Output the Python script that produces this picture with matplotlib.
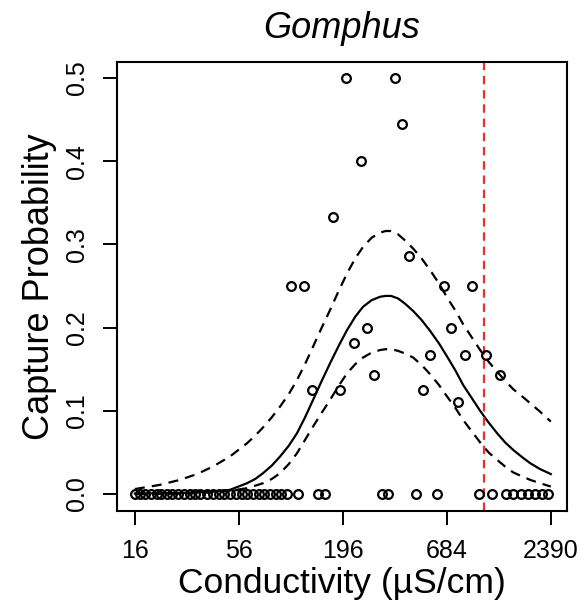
import matplotlib
matplotlib.use('Agg')
import matplotlib.pyplot as plt

plt.rcParams['font.family'] = ['Liberation Sans', 'DejaVu Sans']

# observed capture probabilities (conductivity in uS/cm)
zero_cond = [16, 17, 18, 19.5, 21, 22, 23.5, 25, 27, 29, 31, 33, 35, 38, 41, 44,
             47, 50, 54, 58, 62, 66, 71, 76, 81, 87, 93, 100, 114, 145, 158,
             313, 337, 472, 608, 1009, 1180, 1397, 1519, 1673, 1820, 1981, 2155, 2317]
obs_cond = [105, 123, 135, 174, 189, 204, 224, 243, 263, 286, 367, 399, 434,
            514, 559, 662, 720, 783, 852, 927, 1097, 1299]
obs_prob = [0.25, 0.25, 0.125, 0.333, 0.125, 0.5, 0.182, 0.4, 0.2, 0.143, 0.5, 0.444, 0.286,
            0.125, 0.167, 0.25, 0.2, 0.111, 0.167, 0.25, 0.167, 0.143]

# fitted curve and confidence band
curve_cond = [16, 21.6, 27.5, 33.8, 40.9, 50.2, 61.7, 68, 74.8, 83, 91.8, 102, 112.6, 124, 136.6,
              151, 167.6, 186, 205.7, 227, 249.5, 277, 306.2, 327, 349.5, 380, 412, 455.5,
              505, 559, 622, 686.6, 760, 832.3, 925, 1021, 1130, 1253, 1380, 1520, 1700, 1866, 2100, 2390]
fit = [0.0005, 0.001, 0.001, 0.002, 0.003, 0.005, 0.013, 0.018, 0.025, 0.034, 0.045, 0.058,
       0.073, 0.092, 0.113, 0.135, 0.157, 0.178, 0.197, 0.213, 0.225, 0.233, 0.237, 0.238,
       0.238, 0.235, 0.229, 0.220, 0.209, 0.196, 0.181, 0.165, 0.148, 0.131, 0.115, 0.100,
       0.086, 0.073, 0.062, 0.053, 0.044, 0.037, 0.030, 0.024]
upper = [0.006, 0.011, 0.017, 0.024, 0.033, 0.045, 0.061, 0.070, 0.080, 0.092, 0.105, 0.120,
         0.137, 0.156, 0.177, 0.199, 0.221, 0.244, 0.265, 0.283, 0.297, 0.308, 0.314, 0.316,
         0.316, 0.312, 0.305, 0.295, 0.283, 0.269, 0.253, 0.236, 0.220, 0.204, 0.188, 0.173,
         0.159, 0.147, 0.136, 0.126, 0.117, 0.109, 0.099, 0.087]
lower = [0.0001, 0.0002, 0.0005, 0.001, 0.002, 0.004, 0.007, 0.010, 0.013, 0.018, 0.025, 0.036,
         0.049, 0.065, 0.081, 0.097, 0.113, 0.130, 0.145, 0.156, 0.164, 0.170, 0.173, 0.174,
         0.174, 0.172, 0.169, 0.164, 0.155, 0.144, 0.131, 0.117, 0.103, 0.089, 0.075, 0.062,
         0.050, 0.041, 0.033, 0.026, 0.021, 0.017, 0.013, 0.009]

threshold = 1070
xticks = [16, 56, 196, 684, 2390]
yticks = [0.0, 0.1, 0.2, 0.3, 0.4, 0.5]

fig = plt.figure(figsize=(5.8, 6.08), dpi=100)
ax = fig.add_axes([0.2017, 0.1595, 0.7759, 0.7385])

ax.plot(curve_cond, fit, color='black', lw=1.6)
ax.plot(curve_cond, upper, color='black', lw=1.6, dashes=(4.5, 3.2))
ax.plot(curve_cond, lower, color='black', lw=1.6, dashes=(4.5, 3.2))
ax.axvline(threshold, color='#e83030', lw=1.6, dashes=(3.8, 2.6))

ax.plot(zero_cond, [0] * len(zero_cond), 'o', mfc='none', mec='black', ms=6.3, mew=1.6)
ax.plot(obs_cond, obs_prob, 'o', mfc='none', mec='black', ms=6.3, mew=1.6)

ax.set_xscale('log')
ax.set_xlim(12.9, 2905)
ax.set_ylim(-0.0204, 0.519)
ax.set_xticks(xticks)
ax.set_xticklabels([str(t) for t in xticks])
ax.minorticks_off()
ax.set_yticks(yticks)
ax.set_yticklabels(['%.1f' % t for t in yticks], rotation=90, va='center')
ax.tick_params(length=10, width=1.4, labelsize=18, pad=10)
for s in ax.spines.values():
    s.set_linewidth(1.5)

ax.set_title('Gomphus', fontsize=26, style='italic', pad=17)
ax.set_xlabel('Conductivity (µS/cm)', fontsize=25.5, labelpad=3)
ax.set_ylabel('Capture Probability', fontsize=26, labelpad=6)

fig.savefig('out.png', dpi=100)
